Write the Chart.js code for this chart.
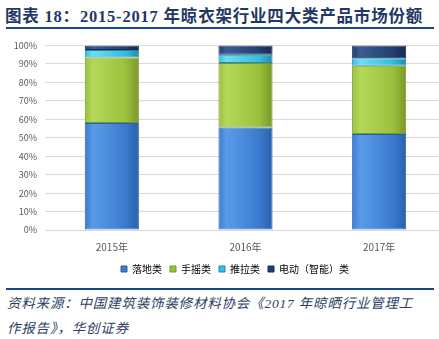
<!DOCTYPE html>
<html>
<head>
<meta charset="utf-8">
<script src="https://cdn.jsdelivr.net/npm/chart.js@4.4.1/dist/chart.umd.min.js"></script>
<style>
  html, body { margin: 0; padding: 0; background: #fff; overflow: hidden; }
  body { width: 439px; height: 339px; position: relative; }
  .title {
    position: absolute; left: 5px; top: 3px; white-space: nowrap;
    font-family: "Liberation Serif", "Noto Sans CJK SC", serif; font-weight: bold;
    font-size: 16.5px; color: #1f3864; letter-spacing: 0.8px;
  }
  .rule { position: absolute; left: 6px; width: 428px; height: 2px; background: #17468c; }
  .box { position: absolute; left: 0; top: 32px; width: 446px; height: 252px; }
  .source {
    position: absolute; left: 7px; top: 291px; white-space: nowrap;
    font-family: "Liberation Serif", "Noto Sans CJK SC", serif; font-style: italic;
    font-size: 13.5px; line-height: 25px; color: #2d3e63; letter-spacing: 0.8px;
  }
</style>
</head>
<body>
<div class="title">图表 18：2015-2017 年晾衣架行业四大类产品市场份额</div>
<div class="rule" style="top:27px"></div>
<div class="box"><canvas id="shareChart"></canvas></div>
<div class="rule" style="top:288px"></div>
<div class="source">资料来源：中国建筑装饰装修材料协会《2017 年晾晒行业管理工<br>作报告》，华创证券</div>
<script>
document.addEventListener("DOMContentLoaded", function () {
    let years = ['2015年', '2016年', '2017年'];
    let floorType = [58, 55.5, 52];
    let handCrank = [35.5, 35, 37];
    let pushPull = [4, 4.5, 4];
    let electric = [2.5, 5, 7];
    let yTicks = [0, 10, 20, 30, 40, 50, 60, 70, 80, 90, 100];

    let colors = [
        ['#5a9be8', '#3a7bd0', '#2a5fa8'],
        ['#b4d85a', '#9bc13c', '#78972a'],
        ['#6fdcf2', '#33bde0', '#2389a8'],
        ['#3a5d94', '#213f70', '#152a4f']
    ];

    function barFill(i) {
        return function (context) {
            let chart = context.chart;
            if (!chart.chartArea || context.dataIndex === undefined) return colors[i][1];
            let x = chart.scales.x.getPixelForValue(context.dataIndex);
            let half = 27;
            let g = chart.ctx.createLinearGradient(x - half, 0, x + half, 0);
            g.addColorStop(0, colors[i][1]);
            g.addColorStop(0.15, colors[i][0]);
            g.addColorStop(0.75, colors[i][1]);
            g.addColorStop(1, colors[i][2]);
            return g;
        };
    }

    // legend sits a little right of centre in the original
    let legendShift = {
        id: 'legendShift',
        afterLayout: function (chart) {
            chart.legend.left += 12;
            chart.legend.right += 12;
        }
    };

    let ctx = document.getElementById('shareChart').getContext('2d');

    new Chart(ctx, {
        type: 'bar',
        plugins: [legendShift],
        data: {
            labels: years,
            datasets: [
                { label: '落地类', data: floorType },
                { label: '手摇类', data: handCrank },
                { label: '推拉类', data: pushPull },
                { label: '电动（智能）类', data: electric }
            ].map((d, i) => Object.assign(d, {
                backgroundColor: barFill(i),
                borderColor: colors[i][2],
                borderWidth: 1,
                borderSkipped: false,
                categoryPercentage: 1,
                barPercentage: 0.405
            }))
        },
        options: {
            responsive: true,
            maintainAspectRatio: false,
            animation: false,
            layout: { padding: { top: 7, right: 0, left: 0, bottom: 0 } },
            plugins: {
                tooltip: { enabled: false },
                legend: {
                    position: 'bottom',
                    labels: {
                        boxWidth: 6, boxHeight: 6, padding: 8,
                        color: '#404040',
                        font: { family: '"Noto Sans CJK SC"', size: 10 },
                        generateLabels: function (chart) {
                            return chart.data.datasets.map((d, i) => ({
                                text: d.label,
                                fillStyle: colors[i][1],
                                strokeStyle: colors[i][2],
                                lineWidth: 1,
                                datasetIndex: i
                            }));
                        }
                    }
                }
            },
            scales: {
                x: {
                    stacked: true,
                    grid: { display: false },
                    border: { display: false },
                    ticks: { color: '#595959', font: { family: '"Noto Sans CJK SC"', size: 10 }, padding: 3 },
                    afterFit: function (s) { s.height = 26; }
                },
                y: {
                    stacked: true,
                    min: 0, max: 100,
                    afterBuildTicks: function (s) { s.ticks = yTicks.map(v => ({ value: v })); },
                    afterFit: function (s) { s.width = 45; },
                    grid: { color: '#d9d9d9', lineWidth: 1, drawTicks: false },
                    border: { display: false },
                    ticks: {
                        color: '#595959', padding: 8,
                        font: { family: '"Noto Sans CJK SC"', size: 9 },
                        callback: v => v + '%'
                    }
                }
            }
        }
    });
});
</script>
</body>
</html>
